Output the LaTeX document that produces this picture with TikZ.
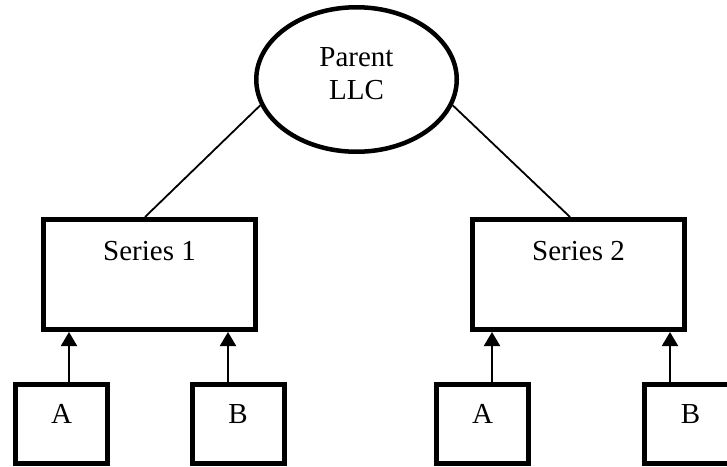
\documentclass[tikz,border=0pt]{standalone}
\usepackage{fontspec}
\setmainfont{Liberation Serif}
\usetikzlibrary{shapes.geometric,arrows.meta,calc}
\begin{document}
\begin{tikzpicture}[x=1pt,y=-1pt,
  heavy/.style={draw=black, line width=5pt, inner sep=0pt},
  entity/.style={heavy, rectangle, minimum width=212pt, minimum height=110pt},
  unitbox/.style={heavy, rectangle, minimum width=92pt, minimum height=79pt},
  parentshape/.style={draw=black, line width=4.5pt, ellipse, inner sep=0pt,
                      minimum width=200.5pt, minimum height=144.5pt},
  caption/.style={font=\fontsize{29}{33}\selectfont, inner sep=0pt},
  link/.style={draw=black, line width=1.8pt},
  feed/.style={draw=black, line width=2pt, -{Triangle[width=16pt,length=14pt]}}]

\clip (0,0) rectangle (727,466);
\fill[white] (0,0) rectangle (727,466);

% parent company
\node[parentshape] (par) at (356.5,79.5) {};
\node[caption, align=center] (partext) at (356.5,74) {Parent\\LLC};

% the two series
\node[entity] (s1) at (149.5,274.5) {};
\node[caption, anchor=base] (s1text) at (149.5,260) {Series 1};
\node[entity] (s2) at (578.5,274.5) {};
\node[caption, anchor=base] (s2text) at (578.5,260) {Series 2};

% classes under each series
\node[unitbox] (a1) at (61.5,424) {};
\node[caption, anchor=base] (a1text) at (61.5,423) {A};
\node[unitbox] (b1) at (238,424) {};
\node[caption, anchor=base] (b1text) at (238,423) {B};
\node[unitbox] (a2) at (482.5,424) {};
\node[caption, anchor=base] (a2text) at (482.5,423) {A};
\node[unitbox] (b2) at (690.5,424) {};
\node[caption, anchor=base] (b2text) at (690.5,423) {B};

% parent to series
\draw[link] (par.195) -- ($(s1.north)+(-4.5,0)$);
\draw[link] (par.-15) -- ($(s2.north)+(-8.5,0)$);

% classes feeding into their series
\coordinate (a1o) at ($(a1.north)+(7.5,0)$);
\coordinate (b1o) at ($(b1.north)+(-10,0)$);
\coordinate (a2o) at ($(a2.north)+(9.5,0)$);
\coordinate (b2o) at ($(b2.north)+(-20.5,0)$);
\draw[feed] (a1o) -- (a1o |- s1.south);
\draw[feed] (b1o) -- (b1o |- s1.south);
\draw[feed] (a2o) -- (a2o |- s2.south);
\draw[feed] (b2o) -- (b2o |- s2.south);
\end{tikzpicture}
\end{document}
